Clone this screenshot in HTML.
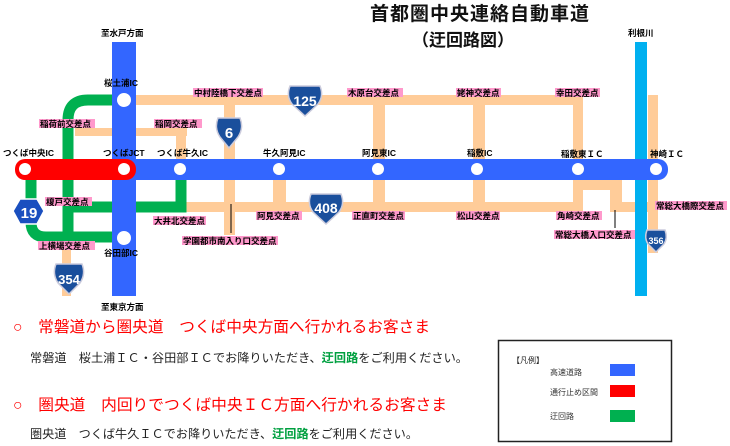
<!DOCTYPE html>
<html><head><meta charset="utf-8"><style>
body{margin:0;background:#fff;}
svg{display:block;font-family:"Liberation Sans","Noto Sans CJK JP",sans-serif;}
.l{font-size:8.5px;font-weight:bold;fill:#000;}
</style></head><body>
<svg width="730" height="446" viewBox="0 0 730 446" xmlns="http://www.w3.org/2000/svg">
<rect width="730" height="446" fill="#fff"/>
<text x="370" y="20" font-size="19" font-weight="bold" fill="#111" letter-spacing="1">首都圏中央連絡自動車道</text>
<text x="412" y="46" font-size="17" font-weight="bold" fill="#111">（迂回路図）</text>

<g fill="#ffcc99">
<rect x="136" y="95" width="447" height="10"/>
<rect x="224" y="95" width="11" height="140"/>
<rect x="373" y="95" width="12" height="117"/>
<rect x="473" y="95" width="12" height="117"/>
<rect x="573" y="95" width="10" height="117"/>
<rect x="648" y="95" width="10" height="158"/>
<rect x="186" y="202" width="397" height="10"/>
<rect x="573" y="180" width="48" height="10"/>
<rect x="610" y="180" width="12" height="32"/>
<rect x="610" y="202" width="48" height="10"/>
<rect x="273" y="178" width="13" height="30"/>
<rect x="75" y="128" width="112" height="8"/>
<rect x="176" y="128" width="10" height="32"/>
<rect x="62" y="233" width="9" height="63"/>
</g>
<rect x="635" y="42" width="12" height="254" fill="#00b0f0"/>
<g fill="none" stroke="#00b050" stroke-width="11">
<path d="M112 100 H88 Q68 100 68 120 V237 H112"/>
<path d="M31 178 V222 Q31 237 46 237 H70"/>
<path d="M68 207 H112 M136 207 H181 V178"/>
</g>
<rect x="112" y="42" width="24" height="254" fill="#3366ff"/>
<rect x="120" y="159" width="548" height="21" rx="10" fill="#3366ff"/>
<rect x="15" y="159" width="121" height="21" rx="10" fill="#ff0000"/>
<g fill="#fff">
<circle cx="25" cy="169" r="6"/><circle cx="124" cy="169" r="6"/><circle cx="180" cy="169" r="6"/>
<circle cx="279" cy="169" r="6"/><circle cx="378" cy="169" r="6"/><circle cx="477" cy="169" r="6"/>
<circle cx="578" cy="169" r="6"/><circle cx="656" cy="169" r="6"/>
<circle cx="124" cy="100" r="7"/><circle cx="124" cy="238" r="7"/>
</g>
<line x1="231" y1="204" x2="231" y2="233" stroke="#000"/>
<line x1="615" y1="210" x2="615" y2="228" stroke="#000"/>

<g fill="#1a4f9c" stroke="#ccd" stroke-width="1.5">
<path d="M290 86 H320 Q324 96 318 104 L305 116 L292 104 Q286 96 290 86Z"/>
<path d="M218 118 H240 Q244 128 238 137 L229 148 L220 137 Q214 128 218 118Z"/>
<path d="M311 194 H341 Q345 204 339 212 L326 224 L313 212 Q307 204 311 194Z"/>
<path d="M56 264 H82 Q86 274 80 283 L69 294 L58 283 Q52 274 56 264Z"/>
<path d="M647 230 H665 Q668 238 664 244 L656 252 L648 244 Q644 238 647 230Z"/>
<polygon points="20,199 37,199 44,211 37,224 20,224 13,211" stroke="#fff" fill="#1a4fbf"/>
</g>
<g fill="#fff" font-weight="bold" text-anchor="middle">
<text x="305" y="106" font-size="14">125</text>
<text x="229" y="138" font-size="15">6</text>
<text x="326" y="213" font-size="14">408</text>
<text x="29" y="218" font-size="15">19</text>
<text x="69" y="284" font-size="13">354</text>
<text x="656" y="244" font-size="9">356</text>
</g>

<g fill="#ff99cc">
<rect x="193" y="88" width="70" height="9"/><rect x="347" y="88" width="56" height="9"/>
<rect x="456" y="88" width="45" height="9"/><rect x="555" y="88" width="45" height="9"/>
<rect x="39" y="119" width="56" height="9"/><rect x="154" y="119" width="48" height="9"/>
<rect x="45" y="197" width="47" height="9"/><rect x="153" y="216" width="53" height="9"/>
<rect x="182" y="236" width="96" height="9"/><rect x="256" y="211" width="46" height="9"/>
<rect x="352" y="211" width="53" height="9"/><rect x="456" y="211" width="44" height="9"/>
<rect x="556" y="211" width="46" height="9"/><rect x="554" y="230" width="81" height="9"/>
<rect x="655" y="201" width="72" height="9"/><rect x="38" y="241" width="57" height="9"/>
</g>
<g class="l">
<text x="194" y="96" class="l">中村陸橋下交差点</text><text x="348" y="96" class="l">木原台交差点</text>
<text x="457" y="96" class="l">姥神交差点</text><text x="556" y="96" class="l">幸田交差点</text>
<text x="40" y="127" class="l">稲荷前交差点</text><text x="155" y="127" class="l">稲岡交差点</text>
<text x="46" y="205" class="l">榎戸交差点</text><text x="154" y="224" class="l">大井北交差点</text>
<text x="183" y="244" class="l">学園都市南入り口交差点</text><text x="257" y="219" class="l">阿見交差点</text>
<text x="353" y="219" class="l">正直町交差点</text><text x="457" y="219" class="l">松山交差点</text>
<text x="557" y="219" class="l">角崎交差点</text><text x="555" y="238" class="l">常総大橋入口交差点</text>
<text x="656" y="209" class="l">常総大橋際交差点</text><text x="39" y="249" class="l">上横場交差点</text>
<text x="101" y="36" class="l">至水戸方面</text><text x="104" y="86" class="l">桜土浦IC</text>
<text x="628" y="36" class="l">利根川</text>
<text x="3" y="156" class="l">つくば中央IC</text><text x="103" y="156" class="l">つくばJCT</text>
<text x="157" y="156" class="l">つくば牛久IC</text><text x="263" y="156" class="l">牛久阿見IC</text>
<text x="362" y="156" class="l">阿見東IC</text><text x="467" y="156" class="l">稲敷IC</text>
<text x="561" y="157" class="l">稲敷東ＩＣ</text><text x="650" y="157" class="l">神崎ＩＣ</text>
<text x="104" y="256" class="l">谷田部IC</text><text x="101" y="310" class="l">至東京方面</text>
</g>

<text x="13" y="332" font-size="15.5" fill="#ff0000" textLength="417" lengthAdjust="spacingAndGlyphs">○　常磐道から圏央道　つくば中央方面へ行かれるお客さま</text>
<text x="30" y="362" font-size="12" fill="#222" textLength="438" lengthAdjust="spacingAndGlyphs">常磐道　桜土浦ＩＣ・谷田部ＩＣでお降りいただき、<tspan fill="#00a040" font-weight="bold">迂回路</tspan>をご利用ください。</text>
<text x="13" y="410" font-size="15.5" fill="#ff0000" textLength="434" lengthAdjust="spacingAndGlyphs">○　圏央道　内回りでつくば中央ＩＣ方面へ行かれるお客さま</text>
<text x="30" y="438" font-size="12" fill="#222" textLength="388" lengthAdjust="spacingAndGlyphs">圏央道　つくば牛久ＩＣでお降りいただき、<tspan fill="#00a040" font-weight="bold">迂回路</tspan>をご利用ください。</text>

<rect x="498.5" y="340.5" width="173" height="101" fill="#fff" stroke="#222" stroke-width="1.5"/>
<text x="512" y="363" font-size="8" fill="#222">【凡例】</text>
<text x="550" y="375" font-size="8" fill="#333">高速道路</text>
<rect x="610" y="364" width="25" height="12" fill="#3366ff"/>
<text x="550" y="395" font-size="8" fill="#333">通行止め区間</text>
<rect x="610" y="385" width="25" height="12" fill="#ff0000"/>
<text x="550" y="419" font-size="8" fill="#333">迂回路</text>
<rect x="610" y="410" width="25" height="12" fill="#00b050"/>
</svg>
</body></html>
